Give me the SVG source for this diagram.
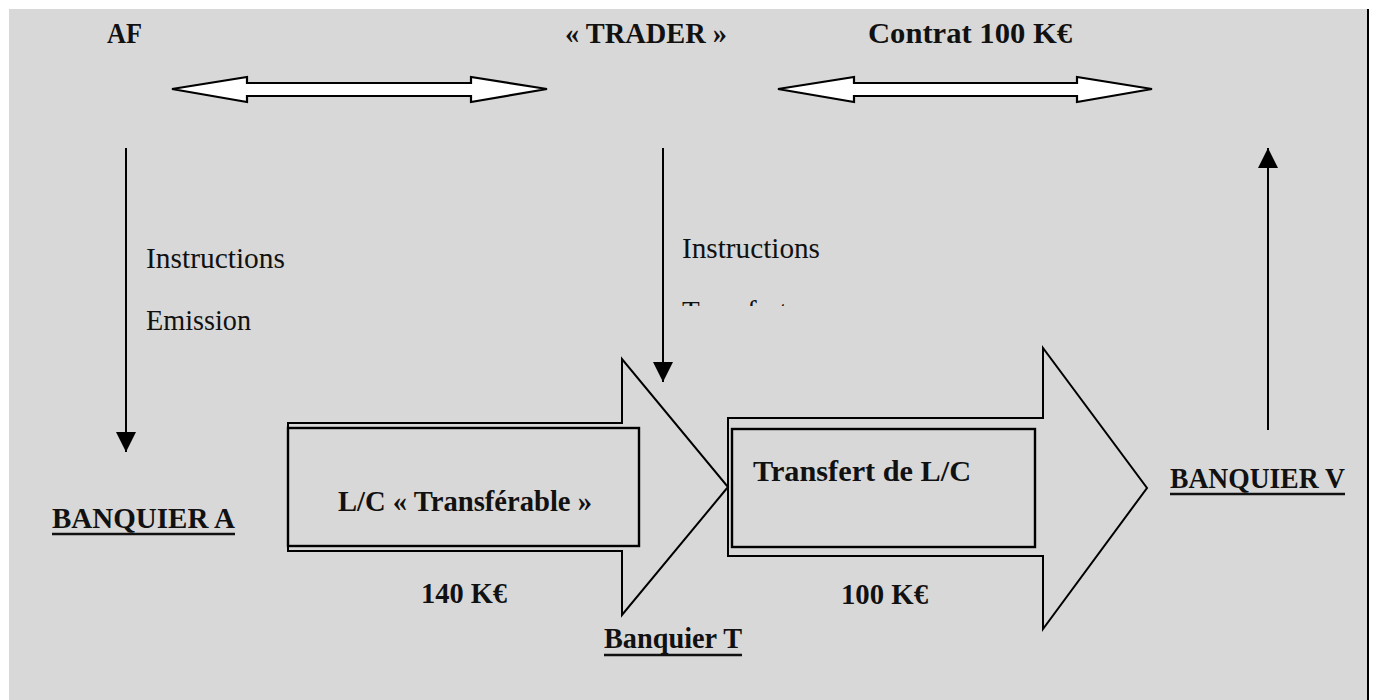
<svg xmlns="http://www.w3.org/2000/svg" width="1375" height="700" viewBox="0 0 1375 700">
  <style>
    .lbl { font-family: "Liberation Serif", "Times New Roman", serif; font-size: 29px; fill: #111; }
    .b { font-weight: bold; font-size: 30px; }
    .dbl { fill: #ffffff; stroke: #000; stroke-width: 2.2; stroke-linejoin: miter; }
    .flow { fill: none; stroke: #000; stroke-width: 2; stroke-linejoin: miter; }
    .inner { fill: none; stroke: #000; stroke-width: 2.4; }
    .ln { stroke: #000; stroke-width: 2; fill: none; }
    .ul { stroke: #111; stroke-width: 2.4; }
  </style>
  <defs>
    <marker id="tri" viewBox="0 0 20 20" refX="20" refY="10" markerWidth="20" markerHeight="20" markerUnits="userSpaceOnUse" orient="auto">
      <path d="M0,0 L20,10 L0,20 Z" fill="#000"/>
    </marker>
    <clipPath id="cut">
      <rect x="600" y="280" width="300" height="26"/>
    </clipPath>
  </defs>

  <!-- page background -->
  <rect x="0" y="0" width="1375" height="700" fill="#ffffff"/>
  <rect x="9" y="9" width="1358" height="691" fill="#d8d8d8"/>
  <line x1="1368" y1="9" x2="1368" y2="700" stroke="#000" stroke-width="2"/>

  <!-- parties -->
  <g id="af"><text class="lbl b" x="107" y="43" textLength="35" lengthAdjust="spacingAndGlyphs">AF</text></g>
  <g id="trader"><text class="lbl b" x="565" y="43" textLength="162" lengthAdjust="spacingAndGlyphs">« TRADER »</text></g>
  <g id="contrat"><text class="lbl b" x="868" y="43" textLength="204" lengthAdjust="spacingAndGlyphs">Contrat 100 K€</text></g>

  <g id="banquier-a">
    <text class="lbl b" x="52" y="528" textLength="183" lengthAdjust="spacingAndGlyphs">BANQUIER A</text>
    <line class="ul" x1="52" y1="534" x2="235" y2="534"/>
  </g>
  <g id="banquier-t">
    <text class="lbl b" x="604" y="648" textLength="138" lengthAdjust="spacingAndGlyphs">Banquier T</text>
    <line class="ul" x1="604" y1="655" x2="742" y2="655"/>
  </g>
  <g id="banquier-v">
    <text class="lbl b" x="1170" y="488" textLength="175" lengthAdjust="spacingAndGlyphs">BANQUIER V</text>
    <line class="ul" x1="1170" y1="494" x2="1345" y2="494"/>
  </g>

  <!-- letter of credit: issued, transferable -->
  <g id="lc-transferable">
    <path class="flow" d="M288,423 L622,423 L622,359 L728,487 L622,615 L622,551 L288,551 Z"/>
    <rect class="inner" x="288" y="428" width="351" height="118"/>
    <text class="lbl b" x="338" y="511" textLength="254" lengthAdjust="spacingAndGlyphs">L/C « Transférable »</text>
    <text class="lbl b" x="421" y="603" textLength="86" lengthAdjust="spacingAndGlyphs">140 K€</text>
  </g>

  <!-- transferred letter of credit -->
  <g id="lc-transfert">
    <path class="flow" d="M728,418 L1043,418 L1043,348 L1147,488 L1043,629 L1043,556 L728,556 Z"/>
    <rect class="inner" x="732" y="429" width="303" height="118"/>
    <text class="lbl b" x="753" y="481" textLength="218" lengthAdjust="spacingAndGlyphs">Transfert de L/C</text>
    <text class="lbl b" x="841" y="604" textLength="87" lengthAdjust="spacingAndGlyphs">100 K€</text>
  </g>

  <!-- connectors -->
  <g id="connectors">
    <path class="dbl" d="M172,89 L247,77 L247,83 L471,83 L471,77 L547,89 L471,102 L471,96 L247,96 L247,102 Z"/>
    <path class="dbl" d="M778,89 L854,77 L854,83 L1077,83 L1077,77 L1152,89 L1077,102 L1077,96 L854,96 L854,102 Z"/>
    <line class="ln" x1="126" y1="148" x2="126" y2="452" marker-end="url(#tri)"/>
    <line class="ln" x1="663" y1="148" x2="663" y2="382" marker-end="url(#tri)"/>
    <line class="ln" x1="1268" y1="430" x2="1268" y2="148" marker-end="url(#tri)"/>
  </g>

  <!-- connector labels -->
  <g id="labels">
    <text class="lbl" x="146" y="268" textLength="139" lengthAdjust="spacingAndGlyphs">Instructions</text>
    <text class="lbl" x="146" y="330" textLength="105" lengthAdjust="spacingAndGlyphs">Emission</text>
    <text class="lbl" x="682" y="258" textLength="138" lengthAdjust="spacingAndGlyphs">Instructions</text>
    <text class="lbl" x="682" y="321" clip-path="url(#cut)">Transfert</text>
  </g>
</svg>
